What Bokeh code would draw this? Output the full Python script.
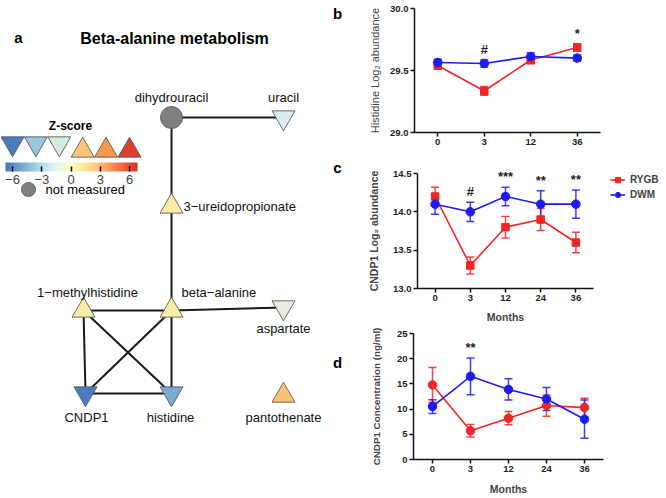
from bokeh.plotting import figure
from bokeh.layouts import row, column
from bokeh.models import (ColumnDataSource, Range1d, Legend, LegendItem, Whisker,
                          TeeHead, ColorBar, LinearColorMapper, FixedTicker)
from bokeh.core.properties import value
from bokeh.embed import file_html
from bokeh.resources import INLINE
from bokeh.palettes import RdYlBu9

try:
    from bokeh.palettes import interp_palette
    ZPAL = interp_palette(tuple(RdYlBu9), 256)
except Exception:
    ZPAL = tuple(RdYlBu9)

# ---------------- Panel a: network data ----------------
node_names = ["dihydrouracil", "uracil", "3\u2212ureidopropionate", "beta\u2212alanine",
              "1\u2212methylhistidine", "aspartate", "CNDP1", "histidine", "pantothenate"]
node_x = [171, 283, 171, 171, 83, 283, 85, 171, 283]
node_y = [117, 117, 206, 310, 310, 307, 393, 393, 395]
node_marker = ["circle", "inverted_triangle", "triangle", "triangle", "triangle",
               "inverted_triangle", "inverted_triangle", "inverted_triangle", "triangle"]
node_color = ["#808080", "#ddedf5", "#f8eda5", "#f8eda5", "#f8eda5",
              "#e6efdf", "#4a7cbf", "#7ba9d6", "#fac478"]
edge_from = ["dihydrouracil", "dihydrouracil", "3\u2212ureidopropionate", "beta\u2212alanine",
             "1\u2212methylhistidine", "1\u2212methylhistidine", "1\u2212methylhistidine",
             "beta\u2212alanine", "beta\u2212alanine", "CNDP1"]
edge_to = ["uracil", "3\u2212ureidopropionate", "beta\u2212alanine", "aspartate",
           "beta\u2212alanine", "CNDP1", "histidine", "CNDP1", "histidine", "histidine"]

legend_z = [-6, -3.6, -1.2, 1.2, 3.6, 6]
legend_marker = ["inverted_triangle"] * 3 + ["triangle"] * 3
legend_color = ["#4a7cbf", "#9cc5e0", "#d6ebe0", "#fcc878", "#f9994e", "#de3d30"]
z_ticks = [-6, -3, 0, 3, 6]

panel_letters = ["b", "c", "d"]

# ---------------- Panels b-d data ----------------
months_b = ["0", "3", "12", "36"]
hist_rygb = [29.54, 29.335, 29.585, 29.685]
hist_rygb_err = [0.03, 0.035, 0.03, 0.03]
hist_dwm = [29.565, 29.557, 29.613, 29.60]
hist_dwm_err = [0.025, 0.03, 0.03, 0.025]
hist_sig = ["", "#", "", "*"]

months_c = ["0", "3", "12", "24", "36"]
cndp_rygb = [14.20, 13.30, 13.80, 13.90, 13.60]
cndp_rygb_err = [0.12, 0.11, 0.14, 0.145, 0.135]
cndp_dwm = [14.10, 14.00, 14.20, 14.10, 14.10]
cndp_dwm_err = [0.13, 0.125, 0.12, 0.175, 0.185]
cndp_sig = ["", "#", "***", "**", "**"]

months_d = ["0", "3", "12", "24", "36"]
conc_rygb = [14.8, 5.7, 8.2, 10.7, 10.3]
conc_rygb_err = [3.45, 1.25, 1.3, 2.1, 1.85]
conc_dwm = [10.5, 16.5, 13.9, 12.0, 8.0]
conc_dwm_err = [1.35, 3.65, 2.1, 2.3, 3.8]
conc_sig = ["", "**", "", "", ""]

RED = "#f02626"
BLUE = "#1c1cf0"
FONT = "Liberation Sans"
PAGE_W, PAGE_H = 664, 496
FA_W = 363

# ---------------- Panel a figure ----------------
fa = figure(width=FA_W, height=PAGE_H, x_range=Range1d(0, FA_W), y_range=Range1d(PAGE_H, 0),
            output_backend="svg", toolbar_location=None,
            x_axis_location=None, y_axis_location=None,
            min_border=0, min_border_left=0, min_border_right=0,
            min_border_top=0, min_border_bottom=0)
fa.grid.visible = False
fa.outline_line_color = None

pos = {n: (x, y) for n, x, y in zip(node_names, node_x, node_y)}
fa.segment(x0=[pos[a][0] for a in edge_from], y0=[pos[a][1] for a in edge_from],
           x1=[pos[b][0] for b in edge_to], y1=[pos[b][1] for b in edge_to],
           line_color="#1a1a1a", line_width=2)

nsrc = ColumnDataSource(dict(x=node_x, y=node_y, m=node_marker, c=node_color,
                             s=[22 if m == "circle" else 23 for m in node_marker]))
fa.scatter("x", "y", marker="m", size="s", fill_color="c", line_color="#5a5a5a",
           line_width=0.9, source=nsrc)

lab_dx = [0, 0, 12, 10, 4, 0, 1, -1, 0]
lab_dy = [-20, -20, 0, -18, -18, 21, 24, 24, 22]
lab_align = ["center", "center", "left", "left", "center", "center", "center", "center", "center"]
fa.text(x=[x + d for x, d in zip(node_x, lab_dx)], y=[y + d for y, d in zip(node_y, lab_dy)],
        text=node_names, text_align=lab_align, text_baseline="middle",
        text_font=value(FONT), text_font_size="13px", text_color="#111111")

fa.text(x=[174], y=[38], text=["Beta-alanine metabolism"], text_align="center",
        text_baseline="middle", text_font=value(FONT), text_font_style="bold",
        text_font_size="16px", text_color="black")
fa.text(x=[18], y=[37], text=["a"], text_align="center", text_baseline="middle",
        text_font=value(FONT), text_font_style="bold", text_font_size="15px")
# letters of the right-hand panels
fa.text(x=[337, 337, 337], y=[13, 167, 362], text=panel_letters, text_align="center",
        text_baseline="middle", text_font=value(FONT), text_font_style="bold",
        text_font_size="15px")

# Z-score legend
z0x, zscale = 70.5, 9.75
fa.text(x=[70], y=[125], text=["Z-score"], text_align="center", text_baseline="middle",
        text_font=value(FONT), text_font_style="bold", text_font_size="12px")
fa.scatter(x=[z0x + z * zscale for z in legend_z],
           y=[143 if m == "inverted_triangle" else 150 for m in legend_marker],
           marker=legend_marker, size=23, fill_color=legend_color,
           line_color="#5a5a5a", line_width=0.9)
mapper = LinearColorMapper(palette=ZPAL, low=(5 - z0x) / zscale, high=(137 - z0x) / zscale)
cb = ColorBar(color_mapper=mapper, orientation="horizontal", width=132, height=9,
              location=(5, PAGE_H - 186), padding=0, margin=0,
              ticker=FixedTicker(ticks=z_ticks),
              major_tick_in=5, major_tick_out=0, major_tick_line_color="black",
              major_tick_line_width=1.5, minor_tick_line_color=None, bar_line_color=None,
              major_label_text_font=FONT, major_label_text_font_size="13px",
              major_label_overrides={-6: "\u22126", -3: "\u22123", 0: "0", 3: "3", 6: "6"},
              label_standoff=3, background_fill_alpha=0)
fa.add_layout(cb, "center")
fa.scatter(x=[28], y=[189], marker="circle", size=14, fill_color="#808080",
           line_color="#5a5a5a", line_width=0.9)
fa.text(x=[45], y=[189], text=["not measured"], text_align="left", text_baseline="middle",
        text_font=value(FONT), text_font_size="13px")


# ---------------- time-course panels (frame = whole figure, axes at fixed locations) --------
def span(fig_px, axis_px, lim):
    scale = (axis_px[1] - axis_px[0]) / (lim[1] - lim[0])
    return (lim[0] + (fig_px[0] - axis_px[0]) / scale,
            lim[0] + (fig_px[1] - axis_px[0]) / scale)


def panel(top_px, height, xaxis_px, yaxis_px, ylim, yticks, months, r, re, d, de, sig,
          ylabel, ylabel_style, ylabel_size, ylabel_standoff, xlabel, xlabel_standoff,
          red_marker, yfmt):
    n = len(months)
    xlim = (-0.5, n - 0.5)
    x0, x1 = span((FA_W, PAGE_W), xaxis_px, xlim)
    y0, y1 = span((top_px + height, top_px), yaxis_px, ylim)
    p = figure(width=PAGE_W - FA_W, height=height, x_range=Range1d(x0, x1),
               y_range=Range1d(y0, y1), output_backend="svg", toolbar_location=None,
               min_border=0, min_border_left=0, min_border_right=0, min_border_top=0,
               min_border_bottom=0)
    p.grid.visible = False
    p.outline_line_color = None
    p.xaxis.fixed_location = ylim[0]
    p.xaxis.bounds = xlim
    p.yaxis.fixed_location = xlim[0]
    p.yaxis.bounds = ylim
    p.xaxis.ticker = FixedTicker(ticks=list(range(n)))
    p.xaxis.major_label_overrides = {i: m for i, m in enumerate(months)}
    p.yaxis.ticker = FixedTicker(ticks=yticks)
    p.yaxis.major_label_overrides = {t: yfmt.format(t) for t in yticks}
    for ax in p.axis:
        ax.axis_line_width = 1.5
        ax.axis_line_color = "#111111"
        ax.major_tick_line_width = 1.5
        ax.major_tick_line_color = "#111111"
        ax.major_tick_in = 0
        ax.major_tick_out = 4
        ax.minor_tick_line_color = None
        ax.major_label_text_font = FONT
        ax.major_label_text_font_style = "bold"
        ax.major_label_text_font_size = "9.5px"
        ax.major_label_text_color = "#222222"
        ax.major_label_standoff = 2
    p.yaxis.axis_label = ylabel
    p.yaxis.axis_label_text_font = FONT
    p.yaxis.axis_label_text_font_style = ylabel_style
    p.yaxis.axis_label_text_font_size = ylabel_size
    p.yaxis.axis_label_standoff = ylabel_standoff
    if xlabel:
        p.xaxis.axis_label = xlabel
        p.xaxis.axis_label_text_font = FONT
        p.xaxis.axis_label_text_font_style = "bold"
        p.xaxis.axis_label_text_font_size = "10.5px"
        p.xaxis.axis_label_standoff = xlabel_standoff

    xs = list(range(n))
    src_r = ColumnDataSource(dict(x=xs, y=r, lo=[a - b for a, b in zip(r, re)],
                                  hi=[a + b for a, b in zip(r, re)]))
    src_d = ColumnDataSource(dict(x=xs, y=d, lo=[a - b for a, b in zip(d, de)],
                                  hi=[a + b for a, b in zip(d, de)]))
    for src, col in ((src_r, RED), (src_d, BLUE)):
        w = Whisker(base="x", upper="hi", lower="lo", source=src, line_color=col,
                    line_width=1.5, line_alpha=0.85,
                    upper_head=TeeHead(size=8, line_color=col, line_width=1.5, line_alpha=0.85),
                    lower_head=TeeHead(size=8, line_color=col, line_width=1.5, line_alpha=0.85))
        p.add_layout(w)
    lr = p.line("x", "y", source=src_r, line_color=RED, line_width=1.6)
    mr = p.scatter("x", "y", source=src_r, marker=red_marker,
                   size=7.5 if red_marker == "square" else 8.5,
                   fill_color=RED, line_color=RED)
    ld = p.line("x", "y", source=src_d, line_color=BLUE, line_width=1.6)
    md = p.scatter("x", "y", source=src_d, marker="circle", size=8.5,
                   fill_color=BLUE, line_color=BLUE)
    top = [max(a + b, c + e) for a, b, c, e in zip(r, re, d, de)]
    p.text(x=xs, y=top, text=sig, text_align="center", text_baseline="bottom", y_offset=-3,
           text_font=value(FONT), text_font_style="bold", text_font_size="13px",
           text_color="#222222")
    return p, (lr, mr), (ld, md)


fb, _, _ = panel(0, 158, (414, 600), (132, 8), (29.0, 30.0), [29.0, 29.5, 30.0], months_b,
                 hist_rygb, hist_rygb_err, hist_dwm, hist_dwm_err, hist_sig,
                 "Histidine Log\u2082 abundance", "normal", "11px", 6, None, 5,
                 "square", "{:.1f}")

fc, rg, dg = panel(158, 168, (417, 593), (288, 173), (13.0, 14.5), [13.0, 13.5, 14.0, 14.5],
                   months_c, cndp_rygb, cndp_rygb_err, cndp_dwm, cndp_dwm_err, cndp_sig,
                   "CNDP1 Log\u2082 abundance", "bold", "10.5px", 10, "Months", 7,
                   "square", "{:.1f}")
leg = Legend(items=[LegendItem(label="RYGB", renderers=list(rg)),
                    LegendItem(label="DWM", renderers=list(dg))],
             location=(247, 125), padding=0, margin=0, spacing=2, glyph_width=15,
             glyph_height=13, label_standoff=5, label_text_font=FONT,
             label_text_font_style="bold", label_text_font_size="10px",
             background_fill_alpha=0, border_line_color=None)
fc.add_layout(leg, "center")

fd, _, _ = panel(326, PAGE_H - 326, (413, 603), (459, 333), (0, 25), [0, 5, 10, 15, 20, 25],
                 months_d, conc_rygb, conc_rygb_err, conc_dwm, conc_dwm_err, conc_sig,
                 "CNDP1 Concentration (ng/ml)", "bold", "9.8px", 12, "Months", 8,
                 "circle", "{:d}")

right = column(fb, fc, fd, spacing=0)
layout = row(fa, right, spacing=0)
open("out.html", "w").write(file_html(layout, INLINE))
